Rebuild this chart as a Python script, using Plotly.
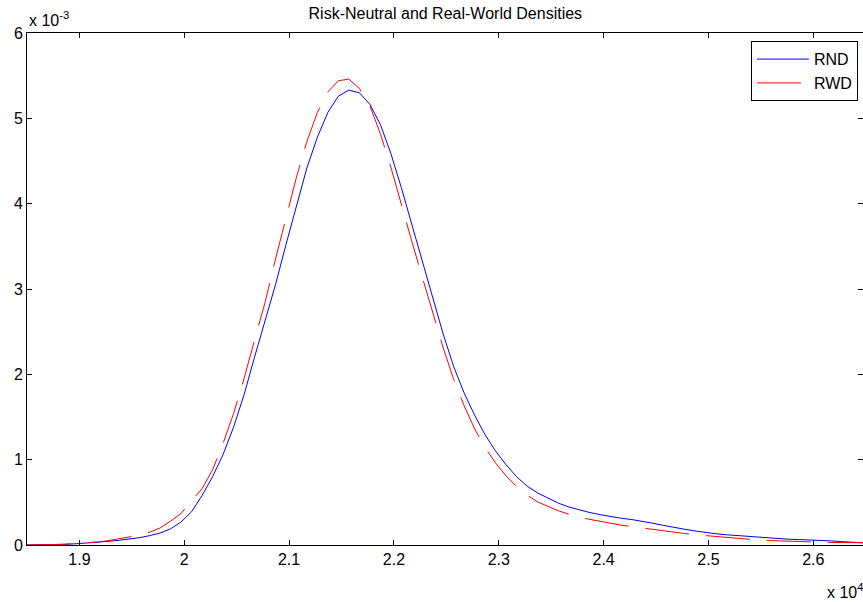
import plotly.graph_objects as go

# x in units of 10^4, densities in units of 10^-3
x_scaled = [1.850, 1.857, 1.867, 1.877, 1.887, 1.897, 1.907, 1.917, 1.927, 1.937, 1.947,
            1.957, 1.967, 1.977, 1.987, 1.997, 2.007, 2.017, 2.027, 2.037, 2.047,
            2.057, 2.067, 2.077, 2.087, 2.097, 2.107, 2.117, 2.127, 2.137, 2.147,
            2.157, 2.167, 2.177, 2.187, 2.197, 2.207, 2.217, 2.227, 2.237, 2.247,
            2.257, 2.267, 2.277, 2.287, 2.297, 2.307, 2.317, 2.327, 2.337, 2.347,
            2.357, 2.367, 2.377, 2.387, 2.397, 2.407, 2.417, 2.427, 2.437, 2.447,
            2.457, 2.467, 2.477, 2.487, 2.497, 2.507, 2.517, 2.527, 2.537, 2.547,
            2.557, 2.567, 2.577, 2.587, 2.597, 2.607, 2.617, 2.627, 2.637, 2.647, 2.657]

rnd_scaled = [0.0, 0.0, 0.002, 0.004, 0.008, 0.015, 0.022, 0.030, 0.042, 0.055, 0.070,
              0.085, 0.110, 0.140, 0.190, 0.270, 0.390, 0.580, 0.800, 1.060, 1.380,
              1.760, 2.200, 2.630, 3.050, 3.520, 3.980, 4.420, 4.780, 5.070, 5.260,
              5.330, 5.300, 5.165, 4.930, 4.590, 4.190, 3.760, 3.310, 2.880, 2.470,
              2.090, 1.780, 1.520, 1.290, 1.100, 0.940, 0.800, 0.690, 0.610, 0.545,
              0.490, 0.445, 0.410, 0.380, 0.355, 0.332, 0.313, 0.298, 0.280, 0.255,
              0.230, 0.205, 0.185, 0.165, 0.147, 0.132, 0.120, 0.110, 0.100, 0.090,
              0.080, 0.072, 0.067, 0.063, 0.060, 0.055, 0.048, 0.040, 0.033, 0.027, 0.020]

rwd_scaled = [0.0, 0.0, 0.003, 0.006, 0.010, 0.017, 0.025, 0.035, 0.050, 0.070, 0.090,
              0.115, 0.150, 0.200, 0.280, 0.370, 0.520, 0.660, 0.880, 1.190, 1.540,
              1.950, 2.400, 2.840, 3.350, 3.840, 4.310, 4.730, 5.070, 5.310, 5.440,
              5.460, 5.350, 5.150, 4.820, 4.430, 3.980, 3.560, 3.140, 2.730, 2.310,
              1.940, 1.630, 1.360, 1.140, 0.960, 0.810, 0.685, 0.585, 0.505, 0.450,
              0.400, 0.360, 0.325, 0.300, 0.275, 0.252, 0.232, 0.215, 0.198, 0.180,
              0.165, 0.150, 0.135, 0.121, 0.110, 0.098, 0.088, 0.078, 0.068, 0.059,
              0.052, 0.047, 0.042, 0.038, 0.034, 0.031, 0.030, 0.029, 0.028, 0.027, 0.025]

x_tick_vals = [1.9, 2.0, 2.1, 2.2, 2.3, 2.4, 2.5, 2.6]
x_tick_text = ["1.9", "2", "2.1", "2.2", "2.3", "2.4", "2.5", "2.6"]
y_tick_vals = [0, 1, 2, 3, 4, 5, 6]
y_tick_text = ["0", "1", "2", "3", "4", "5", "6"]

X_MULT = 1e4
Y_MULT = 1e-3

x = [v * X_MULT for v in x_scaled]
rnd = [v * Y_MULT for v in rnd_scaled]
rwd = [v * Y_MULT for v in rwd_scaled]

FONT = "Arial, Liberation Sans, Helvetica, sans-serif"

fig = go.Figure()
fig.add_trace(go.Scatter(x=x, y=rnd, mode="lines", name="RND",
                         line=dict(color="#0000ff", width=1)))
fig.add_trace(go.Scatter(x=x, y=rwd, mode="lines", name="RWD",
                         line=dict(color="#ff0000", width=1, dash="44px,17px")))

axis_common = dict(showline=True, linecolor="black", linewidth=1, mirror="ticks",
                   ticks="inside", ticklen=5, tickcolor="black", tickwidth=1,
                   showgrid=False, zeroline=False,
                   tickfont=dict(family=FONT, size=16, color="black"))

fig.update_xaxes(range=[18500, 26474], tickvals=[v * X_MULT for v in x_tick_vals],
                 ticktext=x_tick_text, **axis_common)
fig.update_yaxes(range=[0, 0.006], tickvals=[v * Y_MULT for v in y_tick_vals],
                 ticktext=y_tick_text, **axis_common)

fig.update_layout(
    width=863, height=602,
    margin=dict(l=27, r=0, t=33, b=57),
    paper_bgcolor="white", plot_bgcolor="white",
    font=dict(family=FONT, size=16, color="black"),
    title=dict(text="Risk-Neutral and Real-World Densities", x=0.516, xanchor="center",
               y=0.978, yanchor="middle", font=dict(family=FONT, size=16, color="black")),
    showlegend=True,
    legend=dict(x=0.994, xanchor="right", y=0.984, yanchor="top",
                bgcolor="white", bordercolor="black", borderwidth=1, itemwidth=52,
                font=dict(family=FONT, size=16, color="black")),
    annotations=[
        dict(text="x 10<sup>-3</sup>", xref="paper", yref="paper", x=0, y=1,
             xanchor="left", yanchor="bottom", showarrow=False, yshift=2,
             font=dict(family=FONT, size=16, color="black")),
        dict(text="x 10<sup>4</sup>", xref="paper", yref="paper", x=0.955, y=0,
             xanchor="left", yanchor="top", showarrow=False, yshift=-34,
             font=dict(family=FONT, size=16, color="black")),
    ],
)

fig.write_html("out.html", config={"displayModeBar": False},
               post_script="document.body.style.margin='0';document.body.style.overflow='hidden';")
